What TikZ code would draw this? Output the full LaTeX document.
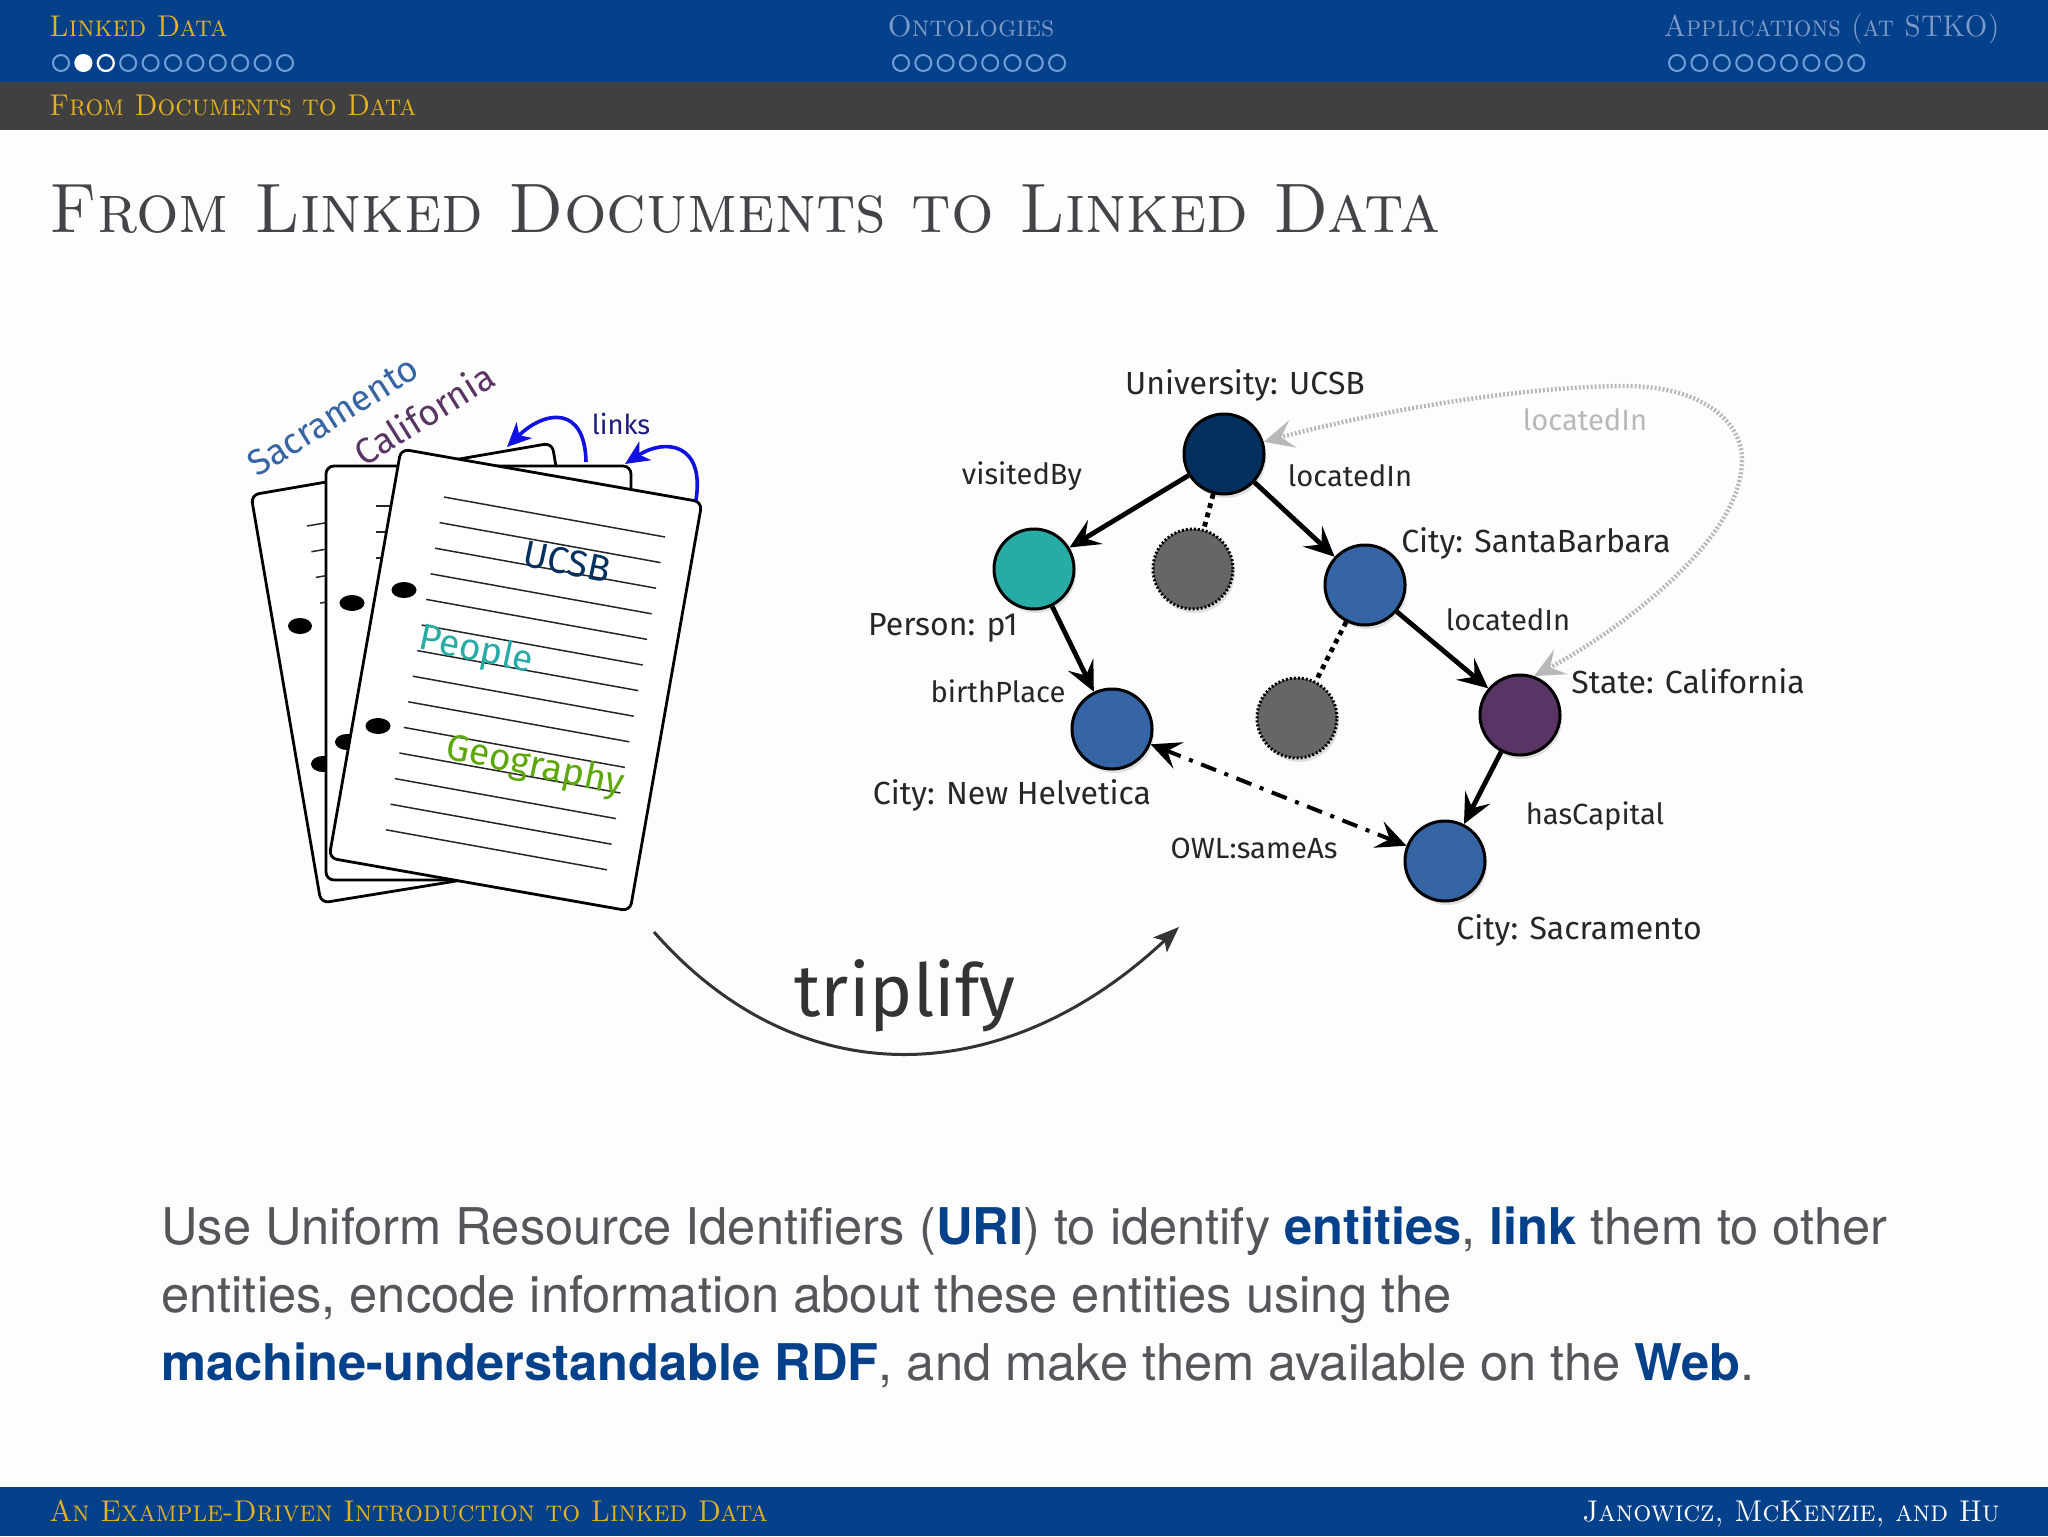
\documentclass[tikz,border=0pt]{standalone}
\usepackage{fontspec}
\usepackage{graphicx}
\usetikzlibrary{arrows.meta,shadows,calc}
\newfontfamily\ubfont{Fira Sans}
\newfontfamily\hvfont{TeX Gyre Heros}
\definecolor{pagebg}{HTML}{FDFDFE}
\definecolor{beamerblue}{HTML}{05418A}
\definecolor{bandgray}{HTML}{404040}
\definecolor{goldtxt}{HTML}{E3B21E}
\definecolor{dimtxt}{HTML}{7C9BC9}
\definecolor{dotline}{HTML}{6F9FD6}
\definecolor{titlegray}{HTML}{444448}
\definecolor{bodygray}{HTML}{55555A}
\definecolor{navyn}{HTML}{03305F}
\definecolor{tealn}{HTML}{27ABA5}
\definecolor{bluen}{HTML}{3565A5}
\definecolor{purplen}{HTML}{5A3464}
\definecolor{grayn}{HTML}{666668}
\definecolor{greentxt}{HTML}{5CA808}
\definecolor{linkblue}{HTML}{1010E0}
\definecolor{linktxt}{HTML}{1C1C80}
\definecolor{faint}{HTML}{B8B8BA}
\newcommand{\narrow}[2]{\scalebox{#1}[1]{#2}}
\tikzset{
  x=0.5pt,y=-0.5pt,
  head/.style={font=\scshape\fontsize{15}{15}\selectfont,inner sep=0pt},
  rdf/.style={circle,minimum size=40pt,inner sep=0pt,line width=1.5pt,draw=black,
    drop shadow={opacity=.22,shadow xshift=1pt,shadow yshift=-2pt}},
  ghost/.style={rdf,fill=grayn,dash pattern=on 1pt off 1pt},
  lab/.style={font=\ubfont\fontsize{16}{16}\selectfont,inner sep=0pt,text=black!85},
  elab/.style={font=\ubfont\fontsize{14.6}{14.6}\selectfont,inner sep=0pt,text=black!85},
  word/.style={font=\ubfont\fontsize{18}{18}\selectfont,inner sep=0pt},
  pageword/.style={font=\ubfont\fontsize{18.6}{18.6}\selectfont,inner sep=0pt,rotate=-12},
  rel/.style={line width=2.4pt,-{Stealth[length=15pt,width=14pt,inset=6pt]}},
  hidden/.style={line width=2.4pt,dash pattern=on 2.4pt off 2.4pt},
  paper/.style={fill=white,draw=black,line width=1.4pt,rounded corners=4pt,line join=round},
  rule/.style={line width=.75pt,draw=black!85},
  hole/.style={fill=black,draw=none},
  navdot/.style={draw=dotline,line width=1pt},
  bodyline/.style={font=\hvfont\fontsize{25.3}{25.3}\selectfont,text=bodygray,inner sep=0pt,anchor=base west},
}
\newcommand{\hl}[1]{\textcolor{beamerblue}{\bfseries #1}}
\begin{document}
\begin{tikzpicture}
\useasboundingbox (0,0) rectangle (2048,1536);
\fill[pagebg] (0,0) rectangle (2048,1536);
% header
\fill[beamerblue] (0,0) rectangle (2048,82);
\fill[bandgray] (0,82) rectangle (2048,130);
\fill[beamerblue] (0,1487) rectangle (2048,1536);
\node[head,anchor=base west,text=goldtxt] (hLD) at (49,37) {\narrow{.945}{Linked Data}};
\node[head,anchor=base,text=dimtxt] (hON) at (971,37) {\narrow{.96}{Ontologies}};
\node[head,anchor=base east,text=dimtxt] (hAP) at (2000,37) {\narrow{.91}{Applications (at STKO)}};
\node[head,anchor=base west,text=goldtxt] (hSub) at (49,115) {\narrow{.93}{From Documents to Data}};
\node[font=\scshape\fontsize{35}{35}\selectfont,anchor=base west,inner sep=0pt,text=titlegray] (title) at (49,232) {\narrow{.958}{From Linked Documents to Linked Data}};
\node[head,anchor=base west,text=goldtxt] (fL) at (49,1521) {\narrow{.94}{An Example-Driven Introduction to Linked Data}};
\node[head,anchor=base east,text=white] (fR) at (2000,1521) {\narrow{.95}{Janowicz, McKenzie, and Hu}};
\foreach \i in {0,...,10} \draw[navdot] ({61+22.4*\i},63) circle[radius=8];
\fill[white] (83.4,63) circle[radius=9];
\draw[white,line width=1.1pt] (105.8,63) circle[radius=8];
\foreach \i in {0,...,7} \draw[navdot] ({901+22.3*\i},63) circle[radius=8];
\foreach \i in {0,...,8} \draw[navdot] ({1677+22.4*\i},63) circle[radius=8];
% back sheet
\draw[paper] (251,495) -- (552,443) -- (622,854) -- (321,903) -- cycle;
\foreach \i in {0,1,2,3} \draw[rule] ({307+4.4*\i},{526+25.7*\i}) -- ++(60,-10.2);
\fill[hole] (300,626) ellipse[x radius=12,y radius=8];
\fill[hole] (323,764) ellipse[x radius=12,y radius=8];
% middle sheet
\draw[paper] (326,466) -- (631,466) -- (631,880) -- (326,880) -- cycle;
\foreach \i in {0,1,2} \draw[rule] (376,{506+25.9*\i}) -- ++(110,0);
\fill[hole] (352,603) ellipse[x radius=12.5,y radius=8];
\fill[hole] (347,742) ellipse[x radius=12,y radius=8];
% front sheet
\draw[paper] (401,449) -- (702,502) -- (630,911) -- (329,858) -- cycle;
\foreach \i in {0,...,13} \draw[rule] ({444-4.46*\i},{497+25.6*\i}) -- ++(221,40);
\fill[hole] (404,590) ellipse[x radius=12.5,y radius=8];
\fill[hole] (378,726) ellipse[x radius=12.5,y radius=8];
% words
\node[word,rotate=32,text=bluen] (wSac) at (333,416) {Sacramento};
\node[word,rotate=32,text=purplen] (wCal) at (424,414) {California};
\node[font=\ubfont\fontsize{13.7}{13.7}\selectfont,text=linktxt,inner sep=0pt] (wLinks) at (621,424) {links};
\node[pageword,text=navyn] (wU) at (567,562) {UCSB};
\node[pageword,text=tealn] (wP) at (476,651) {People};
\node[pageword,text=greentxt] (wG) at (535,767) {Geography};
\coordinate (la) at (586,462);
\coordinate (lb) at (507,447);
\coordinate (lc) at (696,500);
\coordinate (ld) at (625,464);
\draw[linkblue,line width=1.8pt,-{Stealth[length=12pt,width=11pt,inset=3.5pt]}] (la) .. controls (585,405) and (545,410) .. (lb);
\draw[linkblue,line width=1.8pt,-{Stealth[length=12pt,width=11pt,inset=3.5pt]}] (lc) .. controls (705,443) and (665,438) .. (ld);
% graph
\node[rdf,fill=navyn] (ucsb) at (1224,454) {};
\node[rdf,fill=tealn] (person) at (1034,569) {};
\node[ghost] (g1) at (1193,569) {};
\node[rdf,fill=bluen] (helv) at (1112,729) {};
\node[ghost] (g2) at (1297,718) {};
\node[rdf,fill=bluen] (sb) at (1365,585) {};
\node[rdf,fill=purplen] (state) at (1520,715) {};
\node[rdf,fill=bluen] (sac) at (1445,861) {};
\draw[rel] (ucsb) -- (person);
\draw[rel] (ucsb) -- (sb);
\draw[rel] (person) -- (helv);
\draw[rel] (sb) -- (state);
\draw[rel] (state) -- (sac);
\draw[hidden] (ucsb) -- (g1);
\draw[hidden] (sb) -- (g2);
\draw[line width=2pt,dash pattern=on 8pt off 4.5pt on 2pt off 4.5pt,{Stealth[length=15pt,width=14pt,inset=6pt]}-{Stealth[length=15pt,width=14pt,inset=6pt]}] (helv) -- (sac);
\draw[faint,line width=2.2pt,dash pattern=on 1pt off 1pt,{Stealth[length=15pt,width=14pt,inset=6pt]}-{Stealth[length=15pt,width=14pt,inset=6pt]}] (ucsb.17) .. controls (1400,405) and (1540,386) .. (1625,386) .. controls (1700,386) and (1742,420) .. (1742,460) .. controls (1742,540) and (1620,630) .. (state.70);
\node[lab] (lU) at (1245,385) {University: UCSB};
\node[elab] (lV) at (1022,476) {visitedBy};
\node[lab] (lP) at (943,628) {Person: p1};
\node[elab] (lB) at (998,691) {birthPlace};
\node[elab] (lL1) at (1350,476) {locatedIn};
\node[elab,text=faint] (lL2) at (1585,420) {locatedIn};
\node[lab] (lS) at (1536,543) {City: SantaBarbara};
\node[elab] (lL3) at (1508,620) {locatedIn};
\node[lab] (lC) at (1688,681) {State: California};
\node[elab] (lH) at (1595,816) {hasCapital};
\node[elab] (lO) at (1254,848) {OWL:sameAs};
\node[lab] (lN) at (1012,795) {City: New Helvetica};
\node[lab] (lA) at (1579,930) {City: Sacramento};
% triplify
\coordinate (ta) at (654,932);
\coordinate (tb) at (1179,927);
\draw[black!80,line width=1.5pt,-{Stealth[length=13pt,width=10pt,inset=3pt]}] (ta) .. controls (800,1098) and (1005,1090) .. (tb);
\node[font=\ubfont\fontsize{36.5}{36.5}\selectfont,text=black!80,inner sep=0pt] (tri) at (905,996) {triplify};
% body
\node[bodyline] (b1) at (161,1244) {Use Uniform Resource Identifiers (\hl{URI}) to identify \hl{entities}, \hl{link} them to other};
\node[bodyline] (b2) at (161,1312) {entities, encode information about these entities using the};
\node[bodyline] (b3) at (161,1380) {\hl{machine-understandable RDF}, and make them available on the \hl{Web}.};
\end{tikzpicture}
\end{document}
